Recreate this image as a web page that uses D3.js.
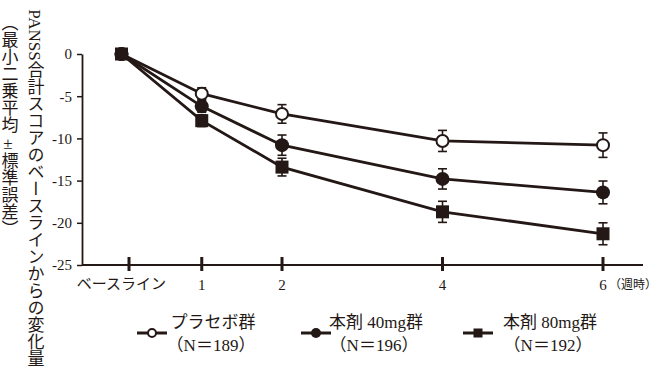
<!DOCTYPE html>
<html><head><meta charset="utf-8">
<script src="https://cdn.jsdelivr.net/npm/d3@7"></script>
<style>
html,body{margin:0;padding:0;background:#fff;}
svg{display:block;}
text{font-family:"Liberation Serif","Noto Sans CJK JP",serif;fill:#231815;}
</style></head>
<body>
<svg id="chart" width="659" height="376"></svg>
<script>
const weeks = [0, 1, 2, 4, 6];
const xTickWeeks = [1, 2, 4, 6];
const xTickLabels = ["1", "2", "4", "6"];
const baselineLabel = "ベースライン";
const unitLabel = "（週時）";
const yTicks = [0, -5, -10, -15, -20, -25];
const seriesNames = ["プラセボ群", "本剤 40mg群", "本剤 80mg群"];
const seriesN = ["（N＝189）", "（N＝196）", "（N＝192）"];
const placebo = [0, -4.7, -7.1, -10.3, -10.8];
const placeboSE = [0, 0.7, 1.1, 1.25, 1.45];
const mg40 = [0, -6.2, -10.8, -14.8, -16.4];
const mg40SE = [0, 0.7, 1.2, 1.2, 1.35];
const mg80 = [0, -7.9, -13.4, -18.7, -21.3];
const mg80SE = [0, 0.7, 1.05, 1.25, 1.3];
const yTitle1 = "PANSS合計スコアのベースラインからの変化量";
const yTitle2 = "（最小二乗平均±標準誤差）";

const ink = "#231815";
const svg = d3.select("#chart");
const x = d3.scaleLinear().domain([0, 6]).range([121.5, 603]);
const y = d3.scaleLinear().domain([0, -25]).range([54, 265]);

const series = [
  {name: seriesNames[0], n: seriesN[0], vals: placebo, se: placeboSE, shape: "openCircle"},
  {name: seriesNames[1], n: seriesN[1], vals: mg40, se: mg40SE, shape: "circle"},
  {name: seriesNames[2], n: seriesN[2], vals: mg80, se: mg80SE, shape: "square"}
];

// Y axis
const yAxis = d3.axisLeft(y).tickValues(yTicks).tickSize(5).tickSizeOuter(0).tickPadding(5)
  .tickFormat(d => d === 0 ? "0" : String(d));
const gy = svg.append("g").attr("transform", "translate(82,0)").call(yAxis);
gy.select(".domain").attr("stroke", ink).attr("stroke-width", 1.8);
gy.selectAll(".tick line").attr("stroke", ink).attr("stroke-width", 1.5);
gy.selectAll(".tick text").attr("font-size", 15).attr("fill", ink)
  .style("font-family", "'Liberation Serif', serif");

// X axis
const gx = svg.append("g");
gx.append("line").attr("x1", 82).attr("x2", 643).attr("y1", y(-25)).attr("y2", y(-25))
  .attr("stroke", ink).attr("stroke-width", 1.8);
const tickPos = [x(0) + 7.5].concat(xTickWeeks.map(w => x(w)));
gx.selectAll("line.tk").data(tickPos).enter().append("line").attr("class", "tk")
  .attr("x1", d => d).attr("x2", d => d).attr("y1", y(-25) - 8).attr("y2", y(-25) + 6)
  .attr("stroke", ink).attr("stroke-width", 3);
gx.selectAll("text.tl").data(xTickWeeks).enter().append("text").attr("class", "tl")
  .attr("x", d => x(d)).attr("y", y(-25) + 25).attr("text-anchor", "middle")
  .attr("font-size", 15).text((d, i) => xTickLabels[i]);
gx.append("text").attr("x", x(0)).attr("y", y(-25) + 24).attr("text-anchor", "middle")
  .attr("font-size", 15).text(baselineLabel);
gx.append("text").attr("x", x(6) + 6).attr("y", y(-25) + 24).attr("text-anchor", "start")
  .attr("font-size", 12).text(unitLabel);

// Y title (vertical)
svg.append("text").attr("x", 34).attr("y", 188).attr("text-anchor", "middle")
  .style("writing-mode", "vertical-rl").attr("font-size", 17).text(yTitle1);
svg.append("text").attr("x", 8).attr("y", 126).attr("text-anchor", "middle")
  .style("writing-mode", "vertical-rl").attr("font-size", 17).text(yTitle2);

// Lines
const line = d3.line().x((d, i) => x(weeks[i])).y(d => y(d));
series.forEach(s => {
  svg.append("path").datum(s.vals).attr("d", line).attr("fill", "none")
    .attr("stroke", ink).attr("stroke-width", 2.8);
});

// Error bars
series.forEach(s => {
  const g = svg.append("g");
  s.vals.forEach((v, i) => {
    if (s.se[i] <= 0) return;
    const cx = x(weeks[i]);
    const y1 = y(v + s.se[i]), y2 = y(v - s.se[i]);
    g.append("line").attr("x1", cx).attr("x2", cx).attr("y1", y1).attr("y2", y2)
      .attr("stroke", ink).attr("stroke-width", 1.6);
    [y1, y2].forEach(yy => g.append("line").attr("x1", cx - 4.5).attr("x2", cx + 4.5)
      .attr("y1", yy).attr("y2", yy).attr("stroke", ink).attr("stroke-width", 1.6));
  });
});

function marker(g, shape, cx, cy, size) {
  if (shape === "square") {
    g.append("rect").attr("x", cx - size).attr("y", cy - size)
      .attr("width", size * 2).attr("height", size * 2).attr("fill", ink);
  } else if (shape === "circle") {
    g.append("circle").attr("cx", cx).attr("cy", cy).attr("r", size).attr("fill", ink);
  } else {
    g.append("circle").attr("cx", cx).attr("cy", cy).attr("r", size - 1)
      .attr("fill", "#fff").attr("stroke", ink).attr("stroke-width", 2);
  }
}

series.forEach(s => {
  const g = svg.append("g");
  s.vals.forEach((v, i) => marker(g, s.shape, x(weeks[i]), y(v), s.shape === "square" ? 6.5 : 7));
});

// Legend
const legX = [152, 316, 478];
const legTextX = [213, 376, 550];
series.forEach((s, i) => {
  const g = svg.append("g");
  g.append("line").attr("x1", legX[i] - 15).attr("x2", legX[i] + 15).attr("y1", 333).attr("y2", 333)
    .attr("stroke", ink).attr("stroke-width", 3);
  marker(g, s.shape, legX[i], 333, s.shape === "square" ? 4.5 : 5);
  g.append("text").attr("x", legTextX[i]).attr("y", 328).attr("text-anchor", "middle")
    .attr("font-size", 17).text(s.name);
  g.append("text").attr("x", legTextX[i] - 2).attr("y", 351).attr("text-anchor", "middle")
    .attr("font-size", 17).text(s.n);
});
</script>
</body></html>
